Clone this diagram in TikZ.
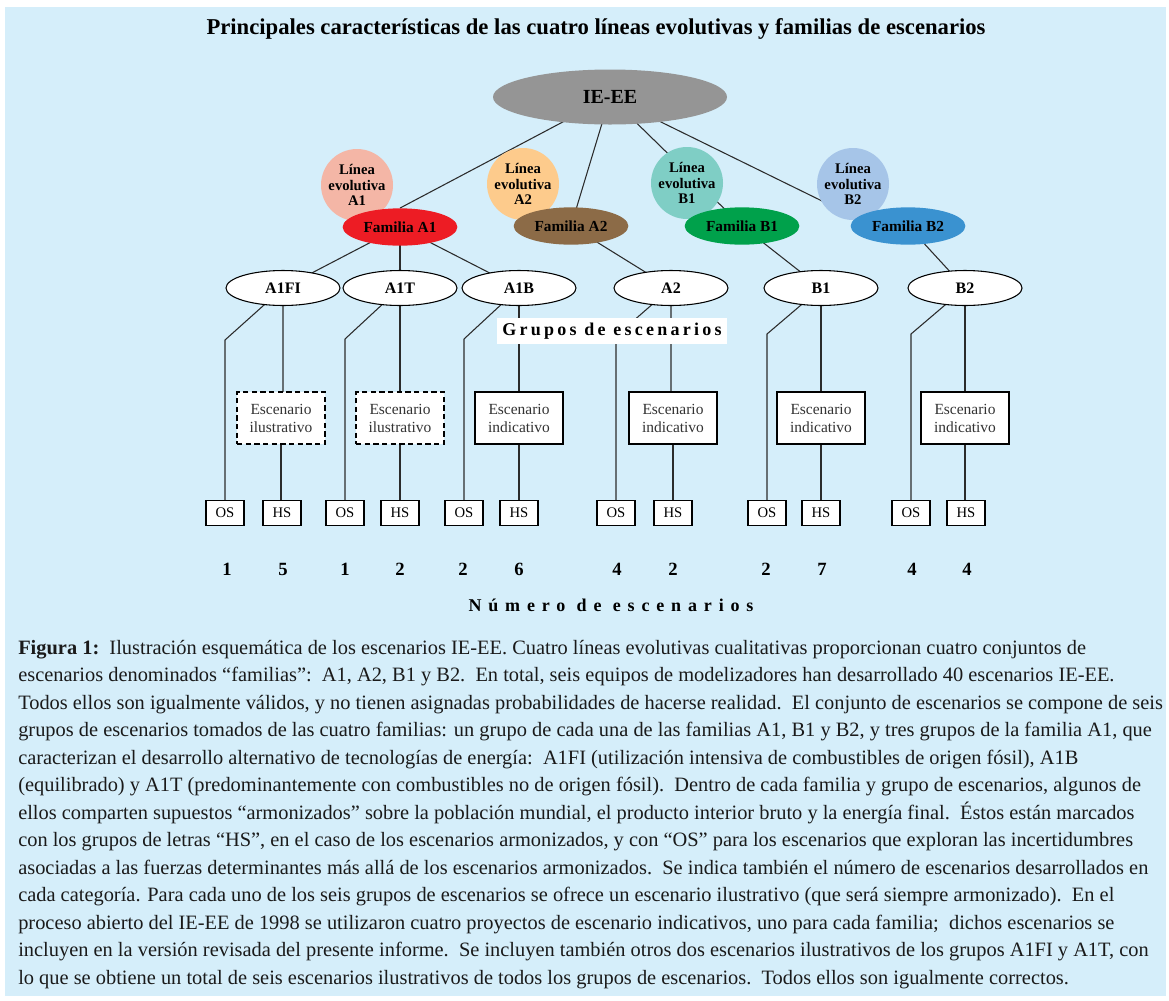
\documentclass[tikz,border=0pt]{standalone}
\usepackage{fontspec}
\setmainfont{Liberation Serif}
\usetikzlibrary{shapes.geometric}
\definecolor{bgblue}{HTML}{D5EEFA}
\definecolor{iegray}{HTML}{959595}
\definecolor{lA1c}{HTML}{F4B6A6}
\definecolor{lA2c}{HTML}{FDCB8C}
\definecolor{lB1c}{HTML}{7FCEC5}
\definecolor{lB2c}{HTML}{A6C5E8}
\definecolor{fA1c}{HTML}{ED1C24}
\definecolor{fA2c}{HTML}{8C6B47}
\definecolor{fB1c}{HTML}{00A14B}
\definecolor{fB2c}{HTML}{3A92D0}
\definecolor{linec}{HTML}{2B2B2B}
\definecolor{darktext}{HTML}{333333}
\definecolor{captext}{HTML}{1A1A1A}
\pgfdeclarelayer{bgfill}
\pgfdeclarelayer{edges}
\pgfsetlayers{bgfill,edges,main}
\begin{document}
\begin{tikzpicture}[x=0.75pt,y=-0.75pt,
  conn/.style={draw=linec, line width=0.8pt},
  linea/.style={circle, minimum size=54pt, inner sep=0pt, align=center, text=black,
    font=\bfseries\fontsize{11}{11.5}\selectfont},
  familia/.style={ellipse, minimum width=86pt, minimum height=28pt, inner sep=0pt,
    font=\bfseries\fontsize{11.5}{12}\selectfont},
  grupo/.style={ellipse, draw=black, fill=white, line width=0.8pt, minimum width=85.5pt,
    minimum height=26.25pt, inner sep=0pt, font=\bfseries\fontsize{12}{12}\selectfont},
  escbox/.style={rectangle, draw=black, fill=white, line width=0.9pt, minimum width=66pt,
    minimum height=39pt, inner sep=0pt, align=center, text=darktext,
    font=\fontsize{11.6}{13.5}\selectfont},
  illbox/.style={escbox, dashed, dash pattern=on 4pt off 2.5pt},
  smallbox/.style={rectangle, draw=black, fill=white, line width=0.9pt, minimum width=28.5pt,
    minimum height=18.75pt, inner sep=0pt, font=\fontsize{11}{11}\selectfont},
  num/.style={font=\bfseries\fontsize{14}{14}\selectfont, inner sep=0pt}
]
\useasboundingbox (0,0) rectangle (1169,1000);
\begin{pgfonlayer}{bgfill}
  \fill[white] (0,0) rectangle (1169,1000);
  \fill[bgblue] (5,7) rectangle (1166,996);
\end{pgfonlayer}

% title
\node[font=\bfseries\fontsize{17}{17}\selectfont, inner sep=0pt] (title) at (596,29)
  {Principales características de las cuatro líneas evolutivas y familias de escenarios};

% root
\node[ellipse, fill=iegray, minimum width=175.5pt, minimum height=41.25pt, inner sep=0pt,
  font=\bfseries\fontsize{15}{15}\selectfont] (ie) at (610,97) {IE-EE};

% storylines
\node[linea, fill=lA1c] (lA1) at (357,185) {Línea\\evolutiva\\A1};
\node[linea, fill=lA2c] (lA2) at (523,184) {Línea\\evolutiva\\A2};
\node[linea, fill=lB1c] (lB1) at (687,183) {Línea\\evolutiva\\B1};
\node[linea, fill=lB2c] (lB2) at (853,184) {Línea\\evolutiva\\B2};

% families
\node[familia, fill=fA1c] (fA1) at (400,227) {Familia A1};
\node[familia, fill=fA2c] (fA2) at (571,226) {Familia A2};
\node[familia, fill=fB1c] (fB1) at (742,226) {Familia B1};
\node[familia, fill=fB2c] (fB2) at (908,226) {Familia B2};
\coordinate (b2end) at (873,226);

% scenario groups
\node[grupo] (gA1FI) at (283,288) {A1FI};
\node[grupo] (gA1T)  at (400,288) {A1T};
\node[grupo] (gA1B)  at (519,288) {A1B};
\node[grupo] (gA2)   at (671,288) {A2};
\node[grupo] (gB1)   at (821,288) {B1};
\node[grupo] (gB2)   at (965,288) {B2};

% illustrative / indicative boxes
\node[illbox] (eA1FI) at (281,418) {Escenario\\ilustrativo};
\node[illbox] (eA1T)  at (400,418) {Escenario\\ilustrativo};
\node[escbox] (eA1B)  at (519,418) {Escenario\\indicativo};
\node[escbox] (eA2)   at (673,418) {Escenario\\indicativo};
\node[escbox] (eB1)   at (821,418) {Escenario\\indicativo};
\node[escbox] (eB2)   at (965,418) {Escenario\\indicativo};

% OS / HS boxes
\node[smallbox] (oA1FI) at (225,513) {OS};
\node[smallbox] (hA1FI) at (282,513) {HS};
\node[smallbox] (oA1T)  at (345,513) {OS};
\node[smallbox] (hA1T)  at (400,513) {HS};
\node[smallbox] (oA1B)  at (464,513) {OS};
\node[smallbox] (hA1B)  at (519,513) {HS};
\node[smallbox] (oA2)   at (616,513) {OS};
\node[smallbox] (hA2)   at (673,513) {HS};
\node[smallbox] (oB1)   at (767,513) {OS};
\node[smallbox] (hB1)   at (821,513) {HS};
\node[smallbox] (oB2)   at (911,513) {OS};
\node[smallbox] (hB2)   at (966,513) {HS};

% bends of the OS connectors
\coordinate (kA1FI) at (225,340);
\coordinate (kA1T)  at (345,339);
\coordinate (kA1B)  at (464,339);
\coordinate (kA2)   at (616,336);
\coordinate (kB1)   at (767,334);
\coordinate (kB2)   at (911,334);

% group label
\node[fill=white, minimum width=173pt, minimum height=19.5pt, inner sep=0pt,
  font=\bfseries\fontsize{13.5}{13.5}\selectfont\addfontfeature{LetterSpace=18}] (grupos) at (612,331)
  {Grupos de escenarios};

% numbers
\foreach \nm/\x/\v in {n1/227/1, n2/283/5, n3/345/1, n4/400/2, n5/463/2, n6/519/6,
  n7/617/4, n8/673/2, n9/766/2, n10/822/7, n11/912/4, n12/967/4}
  \node[num] (\nm) at (\x,569) {\v};
\node[font=\bfseries\fontsize{13.5}{13.5}\selectfont\addfontfeature{LetterSpace=38}, inner sep=0pt]
  (numero) at (611,605) {Número de escenarios};

% connectors
\begin{pgfonlayer}{edges}
  \draw[conn] (ie.center) -- (fA1.north);
  \draw[conn] (ie.center) -- (fA2.center);
  \draw[conn] (ie.center) -- (fB1.center);
  \draw[conn] (ie.center) -- (b2end);
  \draw[conn] (fA1.center) -- (gA1FI.center);
  \draw[conn] (fA1.center) -- (gA1T.center);
  \draw[conn] (fA1.center) -- (gA1B.center);
  \draw[conn] (fA2.center) -- (gA2.center);
  \draw[conn] (fB1.center) -- (gB1.center);
  \draw[conn] (fB2.center) -- (gB2.center);
  \foreach \g in {A1FI,A1T,A1B,A2,B1,B2}{
    \draw[conn] (g\g.center) -- (g\g.center |- e\g.north) -- (e\g.center);
    \draw[conn] (e\g.center) -- (e\g.center |- h\g.north);
    \draw[conn] (o\g.center) -- (k\g) -- (g\g.center);
  }
\end{pgfonlayer}

% caption
\node[anchor=north west, inner sep=0pt, align=left, text=captext,
  font=\fontsize{15.3}{20.6}\selectfont] (cap) at (18,640)
{\textbf{Figura 1:}\ \ Ilustración esquemática de los escenarios IE-EE. Cuatro líneas evolutivas cualitativas proporcionan cuatro conjuntos de\\
escenarios denominados “familias”:\ \ A1, A2, B1 y B2.\ \ En total, seis equipos de modelizadores han desarrollado 40 escenarios IE-EE.\\
Todos ellos son igualmente válidos, y no tienen asignadas probabilidades de hacerse realidad.\ \ El conjunto de escenarios se compone de seis\\
grupos de escenarios tomados de las cuatro familias: un grupo de cada una de las familias A1, B1 y B2, y tres grupos de la familia A1, que\\
caracterizan el desarrollo alternativo de tecnologías de energía:\ \ A1FI (utilización intensiva de combustibles de origen fósil), A1B\\
(equilibrado) y A1T (predominantemente con combustibles no de origen fósil).\ \ Dentro de cada familia y grupo de escenarios, algunos de\\
ellos comparten supuestos “armonizados” sobre la población mundial, el producto interior bruto y la energía final.\ \ Éstos están marcados\\
con los grupos de letras “HS”, en el caso de los escenarios armonizados, y con “OS” para los escenarios que exploran las incertidumbres\\
asociadas a las fuerzas determinantes más allá de los escenarios armonizados.\ \ Se indica también el número de escenarios desarrollados en\\
cada categoría. Para cada uno de los seis grupos de escenarios se ofrece un escenario ilustrativo (que será siempre armonizado).\ \ En el\\
proceso abierto del IE-EE de 1998 se utilizaron cuatro proyectos de escenario indicativos, uno para cada familia;\ \ dichos escenarios se\\
incluyen en la versión revisada del presente informe.\ \ Se incluyen también otros dos escenarios ilustrativos de los grupos A1FI y A1T, con\\
lo que se obtiene un total de seis escenarios ilustrativos de todos los grupos de escenarios.\ \ Todos ellos son igualmente correctos.};
\end{tikzpicture}
\end{document}
